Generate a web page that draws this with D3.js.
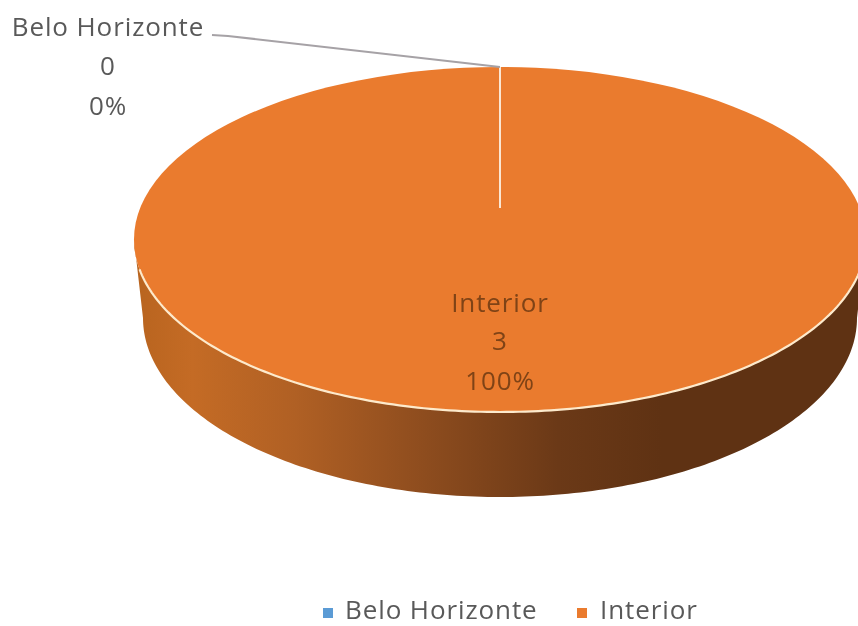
<!DOCTYPE html>
<html><head><meta charset="utf-8">
<script src="https://cdn.jsdelivr.net/npm/d3@7"></script>
<style>
html,body{margin:0;padding:0;background:#fff}
svg{display:block;filter:blur(0.35px)}
text{font-family:"Open Sans",sans-serif;font-size:26px;letter-spacing:0.9px}
</style></head><body>
<svg id="c" width="858" height="626"></svg>
<script>
const categories = ["Belo Horizonte", "Interior"];
const values = [0, 3];
const colors = ["#5b9bd5", "#ea7b2e"];

const W = 858, H = 626;
const svg = d3.select("#c").attr("viewBox", [0, 0, W, H]);
const defs = svg.append("defs");

const top_ = {cx: 500, cy: 239.5, rx: 366, ry: 172.5, apexY: 208};
const bottom = {cx: 500, cy: 318, rx: 357, ry: 179};

const total = d3.sum(values);
const pie = d3.pie().sort(null).value(d => d)(values);
const pct = d3.format(".0%");
const color = d3.scaleOrdinal(categories, colors);

// wall gradient
const grad = defs.append("linearGradient").attr("id", "wall")
  .attr("gradientUnits", "userSpaceOnUse")
  .attr("x1", 134).attr("x2", 866).attr("y1", 0).attr("y2", 0);
[[0, "#b8641f"], [0.08, "#c46b25"], [0.22, "#b06024"], [0.4, "#8d4c1e"], [0.58, "#6b3917"], [0.72, "#5f3213"], [1, "#5f3213"]]
  .forEach(([o, c]) => grad.append("stop").attr("offset", o).attr("stop-color", c));

// wall: lower half of top rim joined with the lower half of the base ellipse
const ang = d3.range(0, 181, 1).map(d => d * Math.PI / 180);
const line = d3.line();
const basePts = ang.map(a => [bottom.cx + bottom.rx * Math.cos(a), bottom.cy + bottom.ry * Math.sin(a)]);
const topPts = ang.slice().reverse().map(a => [top_.cx + top_.rx * Math.cos(a), top_.cy + top_.ry * Math.sin(a)]);
svg.append("path").attr("d", line(topPts.concat(basePts)) + "Z").attr("fill", "url(#wall)");

// top face
const arc = d3.arc().innerRadius(0).outerRadius(1);
const face = svg.append("g").attr("transform", `translate(${top_.cx},${top_.cy}) scale(${top_.rx},${top_.ry})`);
face.selectAll("path").data(pie).join("path")
  .attr("d", arc)
  .attr("fill", (d, i) => color(categories[i]));

// rim highlight on the front edge
const rimAng = d3.range(6, 171, 1).map(d => d * Math.PI / 180);
svg.append("path")
  .attr("d", line(rimAng.map(a => [top_.cx + top_.rx * Math.cos(a), top_.cy + top_.ry * Math.sin(a)])))
  .attr("fill", "none").attr("stroke", "#fdeacc").attr("stroke-width", 2.2);

// slice border at the 12 o'clock seam
svg.append("line")
  .attr("x1", top_.cx).attr("x2", top_.cx)
  .attr("y1", top_.cy - top_.ry).attr("y2", top_.apexY)
  .attr("stroke", "#fbe6d2").attr("stroke-width", 2);

// leader line
svg.append("path")
  .attr("d", line([[212, 35], [228, 36], [top_.cx, top_.cy - top_.ry]]))
  .attr("fill", "none").attr("stroke", "#a6a2a6").attr("stroke-width", 2.2);

// data labels
function label(i, cx, ys, fill) {
  const t = [categories[i], String(values[i]), pct(values[i] / total)];
  svg.append("g").selectAll("text").data(t).join("text")
    .attr("x", cx).attr("y", (d, j) => ys[j])
    .attr("text-anchor", "middle").attr("fill", fill).text(d => d);
}
label(0, 108, [36, 75, 115], "#595959");
label(1, 500, [312, 350, 390], "#7f4316");

// legend
const legX = [323, 577], legT = [345, 600];
const leg = svg.append("g").selectAll("g").data(categories).join("g");
leg.append("rect").attr("x", (d, i) => legX[i]).attr("y", 608).attr("width", 10).attr("height", 10)
  .attr("fill", d => color(d));
leg.append("text").attr("x", (d, i) => legT[i]).attr("y", 618.5)
  .attr("fill", "#595959").text(d => d);
</script>
</body></html>
